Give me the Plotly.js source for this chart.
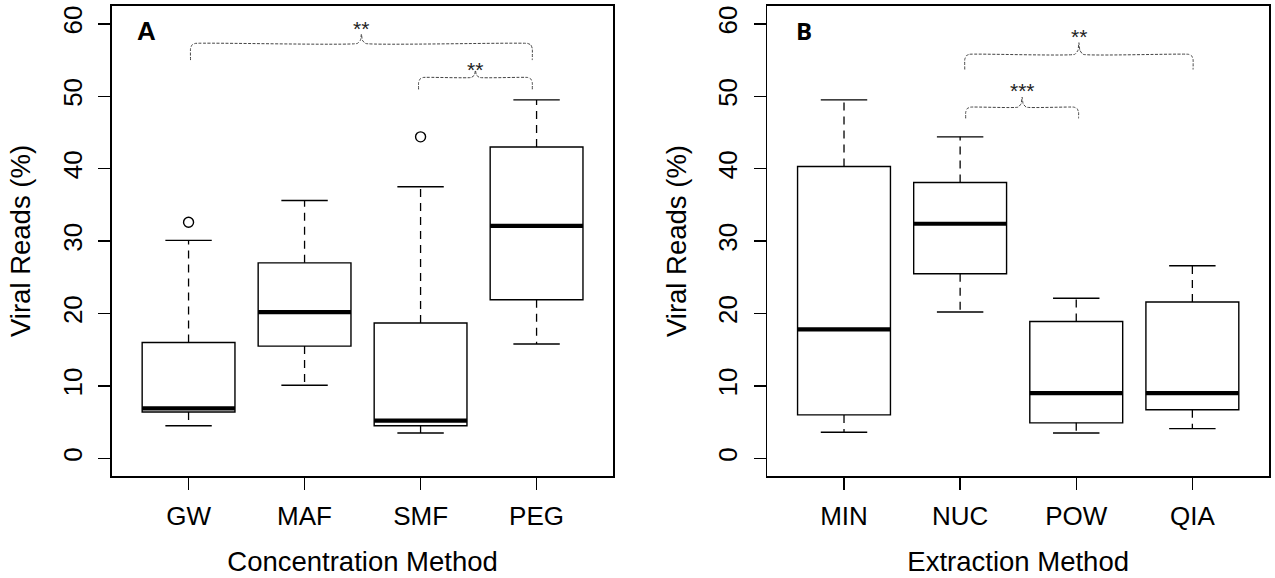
<!DOCTYPE html>
<html>
<head>
<meta charset="utf-8">
<script src="https://cdn.plot.ly/plotly-3.0.1.min.js"></script>
<style>html,body{margin:0;padding:0;background:#fff;}#chart{width:1275px;height:578px;}</style>
</head>
<body>
<div id="chart"></div>
<script>
// ---------- DATA ----------
// Panel A: concentration methods
const catsA   = ['GW', 'MAF', 'SMF', 'PEG'];
const lowA    = [4.5, 10.1, 3.5, 15.8];
const q1A     = [6.4, 15.5, 4.5, 21.9];
const medA    = [6.9, 20.2, 5.2, 32.1];
const q3A     = [16.0, 27.0, 18.7, 43.0];
const highA   = [30.1, 35.6, 37.5, 49.5];
const outCatA = ['GW', 'SMF'];
const outValA = [32.6, 44.4];
const sigPairsA  = [['GW', 'PEG'], ['SMF', 'PEG']];
const sigLabelsA = ['**', '**'];

// Panel B: extraction methods
const catsB   = ['MIN', 'NUC', 'POW', 'QIA'];
const lowB    = [3.6, 20.2, 3.5, 4.1];
const q1B     = [6.0, 25.5, 4.9, 6.7];
const medB    = [17.8, 32.4, 9.0, 9.0];
const q3B     = [40.3, 38.1, 18.9, 21.6];
const highB   = [49.5, 44.4, 22.1, 26.6];
const outCatB = [];
const outValB = [];
const sigPairsB  = [['NUC', 'QIA'], ['NUC', 'POW']];
const sigLabelsB = ['**', '***'];

const yTicks = [0, 10, 20, 30, 40, 50, 60];
const xTitleA = 'Concentration Method';
const xTitleB = 'Extraction Method';
const yTitle  = 'Viral Reads (%)';

// ---------- STYLE (bracket placement, not data) ----------
const bracketStyleA = [
  {level: 57.3, drop: 2.3, off1: 0.017, off2: -0.037, tip: 1.3, label: 59.4},
  {level: 52.6, drop: 1.65, off1: -0.017, off2: -0.037, tip: 1.0, label: 53.7}
];
const bracketStyleB = [
  {level: 55.8, drop: 2.1, off1: 0.04, off2: 0.006, tip: 1.6, label: 58.3},
  {level: 48.5, drop: 1.55, off1: 0.048, off2: 0.02, tip: 1.4, label: 50.8}
];

const FONT = 'Liberation Sans, Arial, Helvetica, sans-serif';
const traces = [];
const annotations = [];

function addPanel(cats, low, q1, med, q3, high, outCat, outVal, pairs, labels, bstyle, xa, ya) {
  const pos = cats.map((c, i) => i + 1);
  const posOf = c => cats.indexOf(c) + 1;
  // boxes (whiskers drawn separately so they can be dashed)
  traces.push({
    type: 'box', x: pos, q1: q1, median: med, q3: q3,
    lowerfence: q1, upperfence: q3, width: 0.8, whiskerwidth: 0,
    boxpoints: false, fillcolor: 'white',
    line: {color: 'black', width: 1.4},
    xaxis: xa, yaxis: ya, hoverinfo: 'skip', showlegend: false
  });
  // dashed whiskers
  const wx = [], wy = [];
  pos.forEach((p, i) => {
    wx.push(p, p, null, p, p, null);
    wy.push(q3[i], high[i], null, q1[i], low[i], null);
  });
  traces.push({type: 'scatter', mode: 'lines', x: wx, y: wy, xaxis: xa, yaxis: ya,
    line: {color: 'black', width: 1.3, dash: '8px,6px'}, hoverinfo: 'skip', showlegend: false});
  // whisker caps
  const cx = [], cy = [];
  pos.forEach((p, i) => {
    cx.push(p - 0.2, p + 0.2, null, p - 0.2, p + 0.2, null);
    cy.push(high[i], high[i], null, low[i], low[i], null);
  });
  traces.push({type: 'scatter', mode: 'lines', x: cx, y: cy, xaxis: xa, yaxis: ya,
    line: {color: 'black', width: 1.4}, hoverinfo: 'skip', showlegend: false});
  // thick medians
  const mx = [], my = [];
  pos.forEach((p, i) => {
    mx.push(p - 0.4, p + 0.4, null);
    my.push(med[i], med[i], null);
  });
  traces.push({type: 'scatter', mode: 'lines', x: mx, y: my, xaxis: xa, yaxis: ya,
    line: {color: 'black', width: 4.2}, hoverinfo: 'skip', showlegend: false});
  // outliers
  if (outCat.length) {
    traces.push({type: 'scatter', mode: 'markers', x: outCat.map(posOf), y: outVal,
      xaxis: xa, yaxis: ya,
      marker: {symbol: 'circle-open', size: 10, color: 'black', line: {width: 1.4}},
      hoverinfo: 'skip', showlegend: false});
  }
  // significance brackets
  pairs.forEach((pr, k) => {
    const s = bstyle[k];
    const x1 = posOf(pr[0]) + s.off1, x2 = posOf(pr[1]) + s.off2;
    const mid = (x1 + x2) / 2, y = s.level, rx = 0.04, ry = 0.7;
    const bx = [x1, x1, x1 + rx * 0.3, x1 + rx, mid - 0.035, mid - 0.008, mid, mid + 0.008, mid + 0.035, x2 - rx, x2 - rx * 0.3, x2, x2];
    const by = [y - s.drop, y - ry, y - ry * 0.3, y, y, y + s.tip * 0.35, y + s.tip, y + s.tip * 0.35, y, y, y - ry * 0.3, y - ry, y - s.drop];
    traces.push({type: 'scatter', mode: 'lines', x: bx, y: by, xaxis: xa, yaxis: ya,
      line: {color: '#444', width: 1, dash: '3px,1.5px', shape: 'spline', smoothing: 0.4},
      hoverinfo: 'skip', showlegend: false});
    annotations.push({x: mid, y: s.label, xref: xa, yref: ya, text: labels[k], showarrow: false,
      xanchor: 'center', yanchor: 'middle', font: {family: FONT, size: 21, color: '#222'}});
  });
}

addPanel(catsA, lowA, q1A, medA, q3A, highA, outCatA, outValA, sigPairsA, sigLabelsA, bracketStyleA, 'x', 'y');
addPanel(catsB, lowB, q1B, medB, q3B, highB, outCatB, outValB, sigPairsB, sigLabelsB, bracketStyleB, 'x2', 'y2');

annotations.push({xref: 'x domain', yref: 'y domain', x: 0.0687, y: 0.947, text: '<b>A</b>', showarrow: false,
  xanchor: 'center', yanchor: 'middle', font: {family: FONT, size: 26, color: 'black'}});
annotations.push({xref: 'x2 domain', yref: 'y2 domain', x: 0.0734, y: 0.947, text: '<b>B</b>', showarrow: false,
  xanchor: 'center', yanchor: 'middle', font: {family: 'Open Sans, ' + FONT, size: 24, color: 'black'}});

function xAxis(domain, cats, title, anchor) {
  return {
    domain: domain, anchor: anchor, range: [0.34, 4.66],
    tickmode: 'array', tickvals: cats.map((c, i) => i + 1), ticktext: cats,
    ticks: 'outside', ticklen: 12, tickwidth: 1.4, tickcolor: 'black',
    ticklabelstandoff: 4,
    showline: true, mirror: true, linecolor: 'black', linewidth: 1.6,
    showgrid: false, zeroline: false, automargin: false,
    tickfont: {family: FONT, size: 26, color: 'black'},
    title: {text: title, font: {family: FONT, size: 27.5, color: 'black'}, standoff: 22}
  };
}
function yAxis(anchor) {
  return {
    domain: [0, 1], anchor: anchor, range: [-2.44, 62.47],
    tickmode: 'array', tickvals: yTicks, tickangle: -90,
    ticks: 'outside', ticklen: 12, tickwidth: 1.4, tickcolor: 'black',
    ticklabelstandoff: 6,
    showline: true, mirror: true, linecolor: 'black', linewidth: 1.6,
    showgrid: false, zeroline: false, automargin: false,
    tickfont: {family: FONT, size: 26, color: 'black'},
    title: {text: yTitle, font: {family: FONT, size: 27.5, color: 'black'}, standoff: 19}
  };
}

const layout = {
  width: 1275, height: 578,
  margin: {l: 112.3, r: 6, t: 6, b: 102},
  paper_bgcolor: 'white', plot_bgcolor: 'white',
  showlegend: false,
  xaxis: xAxis([0, 0.43313], catsA, xTitleA, 'y'),
  yaxis: yAxis('x'),
  xaxis2: xAxis([0.56644, 1], catsB, xTitleB, 'y2'),
  yaxis2: yAxis('x2'),
  annotations: annotations
};

Plotly.newPlot('chart', traces, layout, {displayModeBar: false, staticPlot: true});
</script>
</body>
</html>
